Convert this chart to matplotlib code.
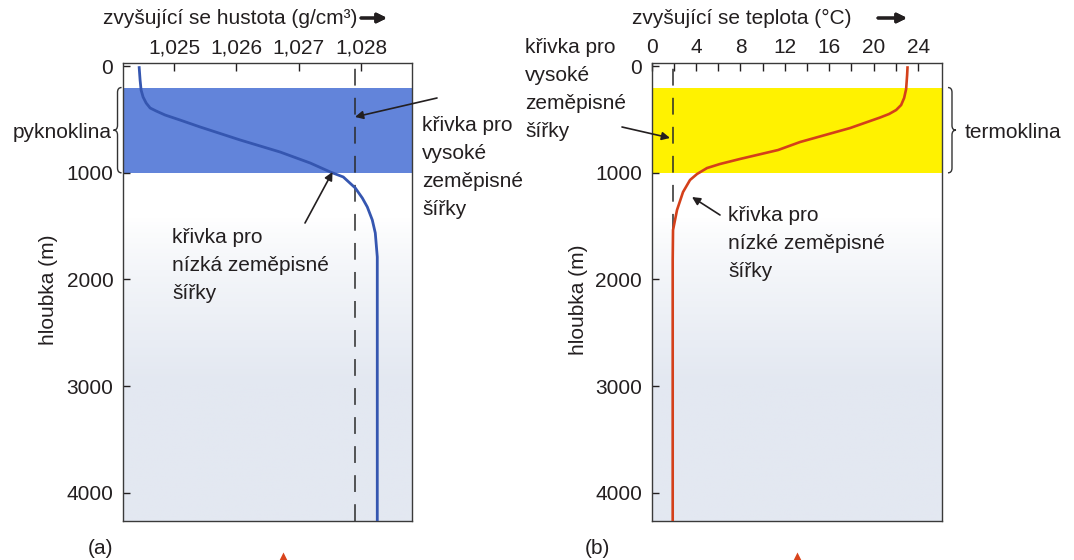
import numpy as np
import matplotlib.pyplot as plt
import matplotlib.transforms as mtrans
from matplotlib.path import Path
from matplotlib.patches import PathPatch
from matplotlib.lines import Line2D
from matplotlib.colors import to_rgb

plt.rcParams['font.family'] = ['Liberation Sans', 'DejaVu Sans']
plt.rcParams['font.size'] = 15

W, H = 1074, 560
TXT = '#231f20'

# (a) hustota, nizke zemepisne sirky
hloubka_a = [0, 129, 223, 289, 345, 392, 420, 458, 505, 570, 692, 805, 908,
             992, 1039, 1142, 1236, 1320, 1442, 1564, 1789, 4265]
hustota_a = [1.024438, 1.024454, 1.024470, 1.024502, 1.024551, 1.024615,
             1.024711, 1.024856, 1.025096, 1.025417, 1.026059, 1.026701,
             1.027183, 1.027504, 1.027713, 1.027905, 1.028018, 1.028098,
             1.028178, 1.028226, 1.028258, 1.028258]
hustota_vysoke = 1.02790

# (b) teplota, nizke zemepisne sirky
hloubka_b = [0, 83, 214, 298, 364, 411, 448, 481, 580, 711, 786, 870, 917,
             955, 1011, 1067, 1180, 1348, 1536, 1817, 4265]
teplota_b = [23.05, 23.01, 22.92, 22.74, 22.47, 22.02, 21.39, 20.58, 17.87,
             13.37, 11.39, 7.96, 6.16, 4.99, 4.09, 3.46, 2.83, 2.29, 1.93,
             1.90, 1.90]
teplota_vysoke = 1.95

pyknoklina = (200, 1000)
termoklina = (200, 1000)

hustota_ticks = [1.025, 1.026, 1.027, 1.028]
hustota_labels = ['1,025', '1,026', '1,027', '1,028']
teplota_ticks = [0, 4, 8, 12, 16, 20, 24]
teplota_minor = [2, 6, 10, 14, 18, 22]
hloubka_ticks = [0, 1000, 2000, 3000, 4000]


def px(x, y):
    return x / W, 1 - y / H


def podklad(ax):
    # svetle modrosedy podklad smerem ke dnu
    f = np.linspace(0, 1, 256)[:, None]
    w = np.clip((0.66 - f) / 0.36, 0, 1) ** 0.8
    base = np.array(to_rgb('#e3e8f1'))
    img = 1 - w[..., None] * (1 - base)
    img = np.repeat(img, 2, axis=1)
    ax.imshow(img, extent=[0, 1, 0, 1], transform=ax.transAxes,
              origin='lower', aspect='auto', zorder=0)


def zavorka(ax, x, y0, y1, w, smer, h=45):
    trans = mtrans.blended_transform_factory(ax.transAxes, ax.transData)
    ym = (y0 + y1) / 2
    verts = [(x - smer * w, y0), (x, y0), (x, y0 + h),
             (x, ym - h), (x, ym), (x + smer * w, ym),
             (x, ym), (x, ym + h),
             (x, y1 - h), (x, y1), (x - smer * w, y1)]
    codes = [Path.MOVETO, Path.CURVE3, Path.CURVE3,
             Path.LINETO, Path.CURVE3, Path.CURVE3,
             Path.CURVE3, Path.CURVE3,
             Path.LINETO, Path.CURVE3, Path.CURVE3]
    ax.add_patch(PathPatch(Path(verts, codes), fc='none', ec='#333333',
                           lw=1.0, transform=trans, clip_on=False))


def osa(ax):
    ax.set_ylim(4265, -30)
    ax.set_yticks(hloubka_ticks)
    ax.xaxis.tick_top()
    ax.tick_params(axis='x', which='both', direction='in', length=6,
                   width=1, pad=4, colors=TXT)
    ax.tick_params(axis='y', direction='in', length=5, width=1, pad=7,
                   colors=TXT)
    for s in ax.spines.values():
        s.set_color('#3a3a3a')
        s.set_linewidth(1.0)


def sipka(xy, xytext, ax=None, **kw):
    props = dict(arrowstyle='-|>', color=TXT, lw=1.2, mutation_scale=12,
                 shrinkA=0, shrinkB=0)
    props.update(kw)
    if ax is None:
        plt.gcf().add_artist(plt.annotate('', xy=px(*xy), xytext=px(*xytext),
                                          xycoords='figure fraction',
                                          arrowprops=props))
    else:
        ax.annotate('', xy=xy, xycoords='data', xytext=xytext,
                    textcoords='figure pixels', arrowprops=props,
                    annotation_clip=False)


fig = plt.figure(figsize=(W / 100, H / 100), dpi=100)
fig.patch.set_facecolor('white')

ax1 = fig.add_axes([123 / W, 39 / H, 288.7 / W, 458 / H])
ax2 = fig.add_axes([651.6 / W, 39 / H, 290.4 / W, 458 / H])

# (a) hustota
podklad(ax1)
ax1.axhspan(*pyknoklina, color='#6284da', lw=0, zorder=1)
ax1.axvline(hustota_vysoke, color='#2a2a2a', lw=1.1, ls=(0, (11, 8)), zorder=2)
ax1.plot(hustota_a, hloubka_a, color='#3556b0', lw=2.0, zorder=3,
         solid_capstyle='butt', solid_joinstyle='round')
ax1.set_xlim(1.02418, 1.02881)
ax1.set_xticks(hustota_ticks)
ax1.set_xticklabels(hustota_labels)
osa(ax1)
zavorka(ax1, -0.019, *pyknoklina, 0.014, -1)

# (b) teplota
podklad(ax2)
ax2.axhspan(*termoklina, color='#fff200', lw=0, zorder=1)
ax2.axvline(teplota_vysoke, color='#2a2a2a', lw=1.1, ls=(0, (11, 8)), zorder=2)
ax2.plot(teplota_b, hloubka_b, color='#d4401a', lw=1.9, zorder=3,
         solid_capstyle='butt', solid_joinstyle='round')
ax2.set_xlim(0, 26.15)
ax2.set_xticks(teplota_ticks)
ax2.set_xticks(teplota_minor, minor=True)
osa(ax2)
zavorka(ax2, 1.0344, *termoklina, 0.0138, 1)

# popisky os
fig.text(*px(103, 18), 'zvyšující se hustota (g/cm³)', ha='left',
         va='center', color=TXT)
sipka((387, 18), (361, 18), lw=2.2, mutation_scale=14)
fig.text(*px(632, 18), 'zvyšující se teplota (°C)', ha='left',
         va='center', color=TXT)
sipka((907, 18), (878, 18), lw=2.2, mutation_scale=14)

fig.text(*px(48, 290), 'hloubka (m)', rotation=90, ha='center',
         va='center', color=TXT)
fig.text(*px(578, 300), 'hloubka (m)', rotation=90, ha='center',
         va='center', color=TXT)

fig.text(*px(112, 132), 'pyknoklina', ha='right', va='center', color=TXT)
fig.text(*px(965, 132), 'termoklina', ha='left', va='center', color=TXT)

kw = dict(ha='left', va='top', color=TXT, linespacing=1.6)
fig.text(*px(422, 116), 'křivka pro\nvysoké\nzeměpisné\nšířky', **kw)
fig.text(*px(172, 228), 'křivka pro\nnízká zeměpisné\nšířky', **kw)
fig.text(*px(525, 38), 'křivka pro\nvysoké\nzeměpisné\nšířky', **kw)
fig.text(*px(728, 206), 'křivka pro\nnízké zeměpisné\nšířky', **kw)

sipka((hustota_vysoke, 476), (437, H - 98), ax=ax1)
sipka((1.02754, 992), (305, H - 223), ax=ax1)
sipka((1.66, 673), (622, H - 127), ax=ax2)
sipka((3.64, 1227), (720, H - 215), ax=ax2)

fig.text(*px(88, 548), '(a)', ha='left', va='center', color=TXT)
fig.text(*px(585, 548), '(b)', ha='left', va='center', color=TXT)

for x in (283, 797):
    fig.add_artist(Line2D([x / W], [1 - 556 / H], marker='^', ms=6,
                          color='#d9441c', mec='none',
                          transform=fig.transFigure))

fig.savefig('out.png', dpi=100)
